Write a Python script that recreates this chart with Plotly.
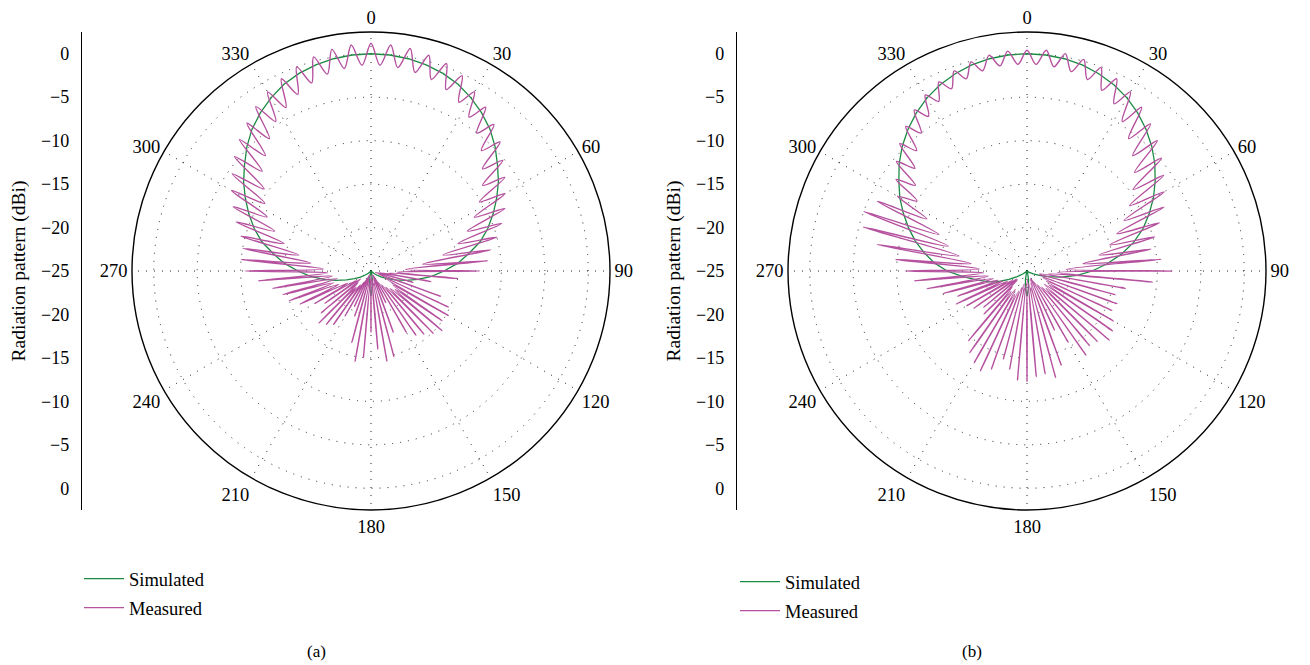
import plotly.graph_objects as go

W, H = 1310, 665
FONT = "Liberation Serif, Times New Roman, serif"
GREEN = "#1b8a43"
MAGENTA = "#b5519f"

# ---------------- data ----------------
# angular tick labels (degrees, clockwise from top)
angle_ticks = [0, 30, 60, 90, 120, 150, 180, 210, 240, 270, 300, 330]
# left scale tick labels (dBi) mirrored about the centre (-25 dBi)
scale_vals = [25, 20, 15, 10, 5, 0, -5, -10, -15, -20, -25]
scale_text = ["0", "\u22125", "\u221210", "\u221215", "\u221220", "\u221225",
              "\u221220", "\u221215", "\u221210", "\u22125", "0"]

# simulated pattern (dBi), every 5 degrees from 0 to 355
sim_theta = [i * 5 for i in range(72)]
sim_a = [0, -0.05, -0.2, -0.45, -0.8, -1.3, -2.0, -2.8, -3.7, -4.8, -6.0, -7.1,
         -8.3, -9.5, -10.7, -12.0, -13.6, -15.0, -16.6, -18.0, -19.5, -20.8, -22.0, -22.9,
         -23.6, -24.2, -24.6, -24.9, -25, -25, -25, -25, -25, -24.8, -24.2, -23.2,
         -22.2, -23.2, -24.2, -24.8, -25, -25, -25, -25, -25, -24.9, -24.6, -24.2,
         -23.6, -22.9, -22.0, -20.8, -19.5, -18.0, -16.6, -15.0, -13.6, -12.0, -10.7, -9.5,
         -8.3, -7.1, -6.0, -4.8, -3.7, -2.8, -2.0, -1.3, -0.8, -0.45, -0.2, -0.05]
sim_b = [0, -0.05, -0.2, -0.45, -0.85, -1.35, -2.0, -2.8, -3.7, -4.7, -5.8, -7.0,
         -8.2, -9.5, -10.8, -12.3, -14.0, -15.8, -17.5, -19.2, -21.0, -22.5, -23.5, -24.2,
         -24.7, -25, -25, -25, -25, -25, -25, -25, -25, -24.7, -24.0, -23.0,
         -22.1, -23.0, -24.0, -24.7, -25, -25, -25, -25, -25, -25, -24.8, -24.4,
         -23.7, -22.7, -21.3, -20.3, -19.1, -17.6, -15.8, -14.3, -13.0, -11.7, -10.5, -9.3,
         -8.1, -7.0, -5.8, -4.7, -3.7, -2.8, -2.0, -1.35, -0.85, -0.45, -0.2, -0.05]

# measured pattern (dBi), every 2.5 degrees from 0 to 357.5
meas_theta = [i * 2.5 for i in range(144)]
meas_a = [
    1.2, -1.3, 1.1, -1.4, 1.0, -1.6, 0.7, -1.9, 0.4, -2.4, -0.2, -3.1,
    -1.2, -4.0, -2.0, -5.0, -3.0, -6.2, -4.0, -7.6, -5.2, -8.8, -6.2, -10.2,
    -7.2, -11.6, -8.0, -13.0, -9.0, -14.5, -10.0, -16.5, -11.0, -19.0, -11.5, -21.0,
    -12.5, -22.0, -15.0, -23.0, -18.0, -24.0, -20.0, -24.5, -16.5, -24.0, -15.2, -23.0,
    -14.7, -22.0, -15.0, -21.5, -14.3, -22.0, -14.8, -22.5, -15.5, -23.0, -16.0, -23.5,
    -16.8, -24.5, -21.0, -24.5, -17.5, -24.0, -14.8, -23.5, -14.5, -24.0, -16.0, -24.5,
    -18.0, -24.0, -15.0, -23.5, -14.4, -24.0, -16.5, -24.5, -19.5, -24.5, -20.5, -24.0,
    -19.0, -23.5, -17.5, -23.0, -17.0, -22.5, -16.5, -23.0, -17.5, -23.5, -18.5, -23.0,
    -17.5, -22.0, -16.0, -21.0, -15.0, -20.5, -14.5, -21.0, -13.5, -20.5, -12.0, -20.0,
    -10.5, -19.5, -10.0, -18.0, -10.0, -16.5, -9.5, -14.5, -8.5, -13.0, -7.5, -11.5,
    -6.5, -10.5, -5.5, -9.5, -4.5, -8.0, -3.6, -7.0, -2.8, -5.8, -1.9, -4.6,
    -1.2, -3.8, -0.6, -3.0, 0.0, -2.3, 0.5, -1.8, 0.9, -1.5, 1.1, -1.3]
meas_b = [
    0.4, -1.2, 0.5, -1.3, 0.4, -1.5, 0.2, -1.9, -0.1, -2.5, -0.6, -3.3,
    -1.2, -4.6, -2.0, -5.8, -2.9, -7.0, -3.8, -8.2, -4.8, -9.6, -5.8, -11.0,
    -6.8, -12.4, -7.6, -13.8, -8.8, -15.0, -9.8, -16.5, -10.5, -18.5, -9.5, -20.5,
    -8.3, -21.5, -10.5, -22.5, -13.5, -23.5, -14.5, -23.5, -14.0, -23.0, -14.2, -22.5,
    -13.5, -22.0, -13.0, -22.5, -12.6, -22.0, -13.5, -22.5, -13.8, -23.0, -13.2, -23.5,
    -15.5, -24.0, -17.5, -24.0, -13.5, -23.5, -12.3, -23.0, -13.0, -23.5, -12.8, -24.0,
    -12.3, -23.5, -12.4, -23.0, -13.5, -23.5, -14.5, -23.0, -13.0, -22.5, -12.3, -22.0,
    -12.8, -22.5, -13.5, -22.0, -14.5, -22.5, -18.0, -23.5, -18.5, -23.5, -17.5, -23.0,
    -17.0, -22.5, -16.0, -22.0, -16.5, -21.5, -15.0, -21.0, -13.3, -20.5, -12.0, -20.0,
    -11.0, -19.5, -9.8, -18.5, -7.5, -17.0, -5.5, -15.5, -5.0, -14.0, -6.0, -12.0,
    -7.8, -10.0, -6.6, -8.8, -5.4, -7.5, -4.3, -6.2, -3.3, -5.0, -2.4, -3.9,
    -1.6, -3.0, -1.0, -2.3, -0.5, -1.8, -0.1, -1.4, 0.2, -1.2, 0.4, -1.2]

# ---------------- figure ----------------
def closed(theta, r):
    return list(theta) + [360], list(r) + [r[0]]

fig = go.Figure()

panels = [
    ("polar", "legend", sim_a, meas_a, "a"),
    ("polar2", "legend2", sim_b, meas_b, "b"),
]
for sub, leg, sim, meas, tag in panels:
    th, rr = closed(sim_theta, sim)
    fig.add_trace(go.Scatterpolar(
        r=rr, theta=th, mode="lines", name="Simulated", subplot=sub, legend=leg,
        legendgroup=tag + "sim", line=dict(color=GREEN, width=1.3), hoverinfo="skip"))
    th, rr = closed(meas_theta, meas)
    fig.add_trace(go.Scatterpolar(
        r=rr, theta=th, mode="lines", name="Measured", subplot=sub, legend=leg,
        legendgroup=tag + "meas",
        line=dict(color=MAGENTA, width=1.4, shape="spline", smoothing=0.9),
        hoverinfo="skip"))

# invisible traces so that the left scale axes are drawn
for xa, ya in [("x", "y"), ("x2", "y2")]:
    fig.add_trace(go.Scatter(x=[0.5], y=[0], xaxis=xa, yaxis=ya, mode="markers",
                             marker=dict(opacity=0), showlegend=False, hoverinfo="skip"))

# geometry (pixels)
R_PX = 239
CY = 271
panel_cx = [371, 1027]
axis_x = [82, 737]
ydom = [(H - (CY + R_PX)) / H, (H - (CY - R_PX)) / H]

def polar_layout(cx):
    return dict(
        domain=dict(x=[(cx - R_PX) / W, (cx + R_PX) / W], y=ydom),
        bgcolor="white",
        angularaxis=dict(
            rotation=90, direction="clockwise", tickmode="array", tickvals=angle_ticks,
            ticktext=[str(a) for a in angle_ticks], ticks="",
            tickfont=dict(family=FONT, size=18.5, color="black"),
            showline=True, linecolor="black", linewidth=1.4,
            showgrid=True, gridcolor="#222", gridwidth=1, griddash="1px,7px"),
        radialaxis=dict(
            range=[-25, 2.5], tickmode="array", tickvals=[-20, -15, -10, -5, 0],
            showticklabels=False, ticks="", showline=False,
            showgrid=True, gridcolor="#222", gridwidth=1, griddash="1px,7px"),
    )

def yaxis_layout(xa):
    return dict(
        domain=ydom, range=[-27.5, 27.5], anchor=xa, showline=True, linecolor="black",
        linewidth=1.3, ticks="", tickmode="array", tickvals=scale_vals, ticktext=scale_text,
        tickfont=dict(family=FONT, size=18, color="black"), showgrid=False, zeroline=False,
        ticklabelstandoff=8,
        title=dict(text="Radiation pattern (dBi)", font=dict(family=FONT, size=19.5, color="black"),
                   standoff=10),
        fixedrange=True)

def xaxis_layout(px):
    return dict(domain=[px / W, (px + 6) / W], range=[0, 1], visible=False, fixedrange=True)

def legend_layout(px, py):
    return dict(x=px / W, y=1 - py / H, xanchor="left", yanchor="top",
                font=dict(family=FONT, size=18.5, color="black"), bgcolor="rgba(0,0,0,0)",
                traceorder="grouped", tracegroupgap=2, itemwidth=40)

fig.update_layout(
    width=W, height=H, autosize=False,
    margin=dict(l=0, r=0, t=0, b=0),
    paper_bgcolor="white", plot_bgcolor="white",
    font=dict(family=FONT, color="black"),
    polar=polar_layout(panel_cx[0]),
    polar2=polar_layout(panel_cx[1]),
    xaxis=xaxis_layout(axis_x[0]), yaxis=yaxis_layout("x"),
    xaxis2=xaxis_layout(axis_x[1]), yaxis2=yaxis_layout("x2"),
    legend=legend_layout(79, 560),
    legend2=legend_layout(735, 563),
    annotations=[
        dict(text="(a)", x=316 / W, y=1 - 651 / H, xref="paper", yref="paper",
             xanchor="center", yanchor="middle",
             showarrow=False, font=dict(family=FONT, size=17, color="black")),
        dict(text="(b)", x=972 / W, y=1 - 651 / H, xref="paper", yref="paper",
             xanchor="center", yanchor="middle",
             showarrow=False, font=dict(family=FONT, size=17, color="black")),
    ],
)

fig.write_html("out.html")
